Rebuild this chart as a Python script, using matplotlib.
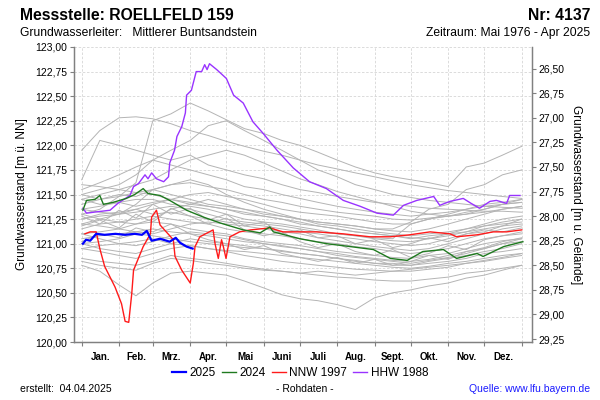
import matplotlib
matplotlib.use("Agg")
import matplotlib.pyplot as plt
from matplotlib.ticker import FixedLocator, FuncFormatter, NullFormatter

plt.rcParams["font.family"] = ["Liberation Sans", "DejaVu Sans"]

MONTHS = ["Jan.", "Feb.", "Mrz.", "Apr.", "Mai", "Juni",
          "Juli", "Aug.", "Sept.", "Okt.", "Nov.", "Dez."]
MONTH_STARTS = [0, 31, 59, 90, 120, 151, 181, 212, 243, 273, 304, 334, 365]

# other years (m ü. NN), sampled twice a month
GRAY_DAYS = [0, 15, 31, 45, 59, 74, 90, 105, 120, 135, 151, 166, 181,
             196, 212, 227, 243, 258, 273, 288, 304, 319, 334, 349, 365]
GRAY_YEARS = [
    [121.95, 122.15, 122.28, 122.29, 122.27, 122.22, 122.15, 122.10, 122.04, 121.99, 121.94, 121.90, 121.85,
     121.80, 121.76, 121.72, 121.68, 121.64, 121.60, 121.57, 121.54, 121.52, 121.50, 121.48, 121.46],
    [121.30, 121.35, 121.48, 121.62, 122.25, 122.32, 122.43, 122.35, 122.26, 122.17, 122.12, 122.05, 122.00,
     121.93, 121.85, 121.78, 121.72, 121.68, 121.65, 121.62, 121.58, 121.78, 121.82, 121.90, 121.99],
    [121.65, 122.05, 122.00, 121.95, 121.90, 121.85, 121.90, 121.80, 121.75, 121.70, 121.66, 121.60, 121.55,
     121.52, 121.48, 121.45, 121.42, 121.40, 121.38, 121.36, 121.35, 121.34, 121.33, 121.33, 121.32],
    [121.50, 121.55, 121.60, 121.70, 121.85, 121.95, 122.05, 122.20, 122.25, 122.15, 122.05, 121.95, 121.85,
     121.75, 121.68, 121.60, 121.55, 121.50, 121.47, 121.44, 121.42, 121.40, 121.38, 121.37, 121.36],
    [121.45, 121.50, 121.55, 121.60, 121.65, 121.75, 121.85, 121.90, 121.95, 121.90, 121.82, 121.74, 121.66,
     121.60, 121.53, 121.48, 121.43, 121.38, 121.33, 121.30, 121.28, 121.30, 121.35, 121.40, 121.45],
    [121.20, 121.25, 121.30, 121.40, 121.55, 121.60, 121.65, 121.60, 121.50, 121.42, 121.35, 121.30, 121.25,
     121.22, 121.20, 121.18, 121.15, 121.15, 121.22, 121.35, 121.40, 121.55, 121.60, 121.70, 121.75],
    [121.40, 121.45, 121.50, 121.48, 121.55, 121.50, 121.45, 121.40, 121.38, 121.35, 121.30, 121.28, 121.25,
     121.22, 121.20, 121.18, 121.15, 121.13, 121.12, 121.15, 121.20, 121.25, 121.30, 121.35, 121.38],
    [121.35, 121.38, 121.42, 121.45, 121.45, 121.40, 121.38, 121.35, 121.30, 121.25, 121.22, 121.20, 121.17,
     121.14, 121.10, 121.08, 121.05, 121.03, 121.02, 121.05, 121.10, 121.15, 121.20, 121.25, 121.28],
    [121.25, 121.30, 121.32, 121.35, 121.30, 121.32, 121.28, 121.25, 121.22, 121.20, 121.18, 121.15, 121.12,
     121.10, 121.07, 121.05, 121.02, 121.00, 120.98, 121.00, 121.05, 121.10, 121.12, 121.18, 121.20],
    [121.15, 121.20, 121.22, 121.25, 121.28, 121.25, 121.22, 121.20, 121.15, 121.12, 121.10, 121.08, 121.05,
     121.02, 121.00, 120.97, 120.95, 120.92, 120.90, 120.92, 120.95, 121.00, 121.05, 121.08, 121.12],
    [121.10, 121.12, 121.15, 121.20, 121.22, 121.20, 121.15, 121.12, 121.10, 121.05, 121.02, 121.00, 120.98,
     120.95, 120.92, 120.90, 120.88, 120.86, 120.85, 120.88, 120.90, 120.95, 121.00, 121.03, 121.05],
    [121.05, 121.08, 121.10, 121.12, 121.15, 121.12, 121.10, 121.08, 121.05, 121.02, 121.00, 120.97, 120.95,
     120.92, 120.90, 120.87, 120.85, 120.83, 120.82, 120.84, 120.88, 120.92, 120.95, 121.00, 121.02],
    [121.00, 121.02, 121.05, 121.10, 121.08, 121.05, 121.02, 121.00, 120.98, 120.96, 120.95, 120.93, 120.90,
     120.88, 120.85, 120.83, 120.80, 120.80, 120.78, 120.80, 120.82, 120.85, 120.90, 120.92, 120.95],
    [120.95, 120.98, 121.00, 121.02, 121.05, 121.00, 120.98, 120.95, 120.93, 120.92, 120.90, 120.88, 120.86,
     120.84, 120.82, 120.80, 120.78, 120.76, 120.75, 120.77, 120.80, 120.82, 120.85, 120.88, 120.90],
    [120.82, 120.78, 120.75, 120.73, 120.80, 120.85, 120.83, 120.80, 120.78, 120.75, 120.73, 120.72, 120.70,
     120.68, 120.66, 120.65, 120.63, 120.62, 120.62, 120.64, 120.66, 120.70, 120.72, 120.75, 120.78],
    [120.78, 120.72, 120.58, 120.47, 120.60, 120.70, 120.72, 120.70, 120.68, 120.62, 120.55, 120.48, 120.44,
     120.42, 120.38, 120.33, 120.45, 120.50, 120.53, 120.57, 120.60, 120.65, 120.68, 120.73, 120.78],
    [120.85, 120.82, 120.80, 120.78, 120.82, 120.88, 120.85, 120.83, 120.80, 120.77, 120.74, 120.72, 120.70,
     120.72, 120.70, 120.68, 120.70, 120.72, 120.74, 120.76, 120.78, 120.80, 120.82, 120.85, 120.88],
    [121.50, 121.45, 121.48, 121.52, 121.50, 121.45, 121.40, 121.45, 121.40, 121.35, 121.32, 121.28, 121.25,
     121.20, 121.18, 121.15, 121.12, 121.10, 121.08, 121.10, 121.12, 121.15, 121.18, 121.20, 121.22],
    [121.30, 121.25, 121.22, 121.20, 121.25, 121.35, 121.40, 121.38, 121.35, 121.30, 121.28, 121.25, 121.20,
     121.18, 121.15, 121.12, 121.10, 121.08, 121.05, 121.08, 121.10, 121.12, 121.15, 121.18, 121.25],
    [121.20, 121.18, 121.15, 121.12, 121.10, 121.15, 121.20, 121.22, 121.20, 121.18, 121.15, 121.12, 121.10,
     121.06, 121.03, 121.00, 120.97, 120.95, 120.93, 120.95, 121.00, 121.05, 121.10, 121.15, 121.18],
    [121.45, 121.40, 121.42, 121.38, 121.42, 121.45, 121.50, 121.52, 121.48, 121.45, 121.40, 121.35, 121.32,
     121.30, 121.28, 121.25, 121.22, 121.20, 121.20, 121.25, 121.30, 121.35, 121.40, 121.42, 121.45],
    [121.60, 121.58, 121.55, 121.52, 121.55, 121.60, 121.62, 121.58, 121.55, 121.50, 121.45, 121.42, 121.38,
     121.35, 121.32, 121.30, 121.28, 121.25, 121.24, 121.26, 121.28, 121.32, 121.35, 121.40, 121.42],
    [121.10, 121.05, 121.00, 120.98, 121.02, 121.08, 121.12, 121.10, 121.08, 121.04, 121.00, 120.98, 120.95,
     120.92, 120.88, 120.86, 120.84, 120.82, 120.80, 120.83, 120.86, 120.90, 120.95, 121.00, 121.05],
    [121.00, 120.95, 120.92, 120.90, 120.95, 121.00, 121.05, 121.02, 121.00, 120.98, 120.95, 120.92, 120.90,
     120.88, 120.85, 120.82, 120.80, 120.78, 120.78, 120.82, 120.85, 120.88, 120.92, 120.95, 121.00],
    [121.25, 121.28, 121.30, 121.32, 121.35, 121.38, 121.35, 121.30, 121.25, 121.22, 121.20, 121.18, 121.15,
     121.12, 121.10, 121.08, 121.06, 121.05, 121.20, 121.25, 121.28, 121.30, 121.32, 121.35, 121.38],
    [121.35, 121.32, 121.30, 121.35, 121.40, 121.45, 121.42, 121.38, 121.35, 121.32, 121.28, 121.25, 121.22,
     121.18, 121.15, 121.12, 121.10, 121.08, 121.06, 121.05, 121.08, 121.12, 121.18, 121.22, 121.25],
    [121.55, 121.62, 121.70, 121.78, 121.85, 121.80, 121.75, 121.70, 121.65, 121.58, 121.55, 121.50, 121.46,
     121.42, 121.38, 121.35, 121.32, 121.30, 121.28, 121.30, 121.32, 121.35, 121.38, 121.40, 121.42],
    [120.95, 120.92, 120.88, 120.85, 120.90, 120.95, 120.98, 120.95, 120.92, 120.88, 120.85, 120.82, 120.80,
     120.78, 120.76, 120.74, 120.73, 120.72, 120.72, 120.74, 120.76, 120.80, 120.83, 120.86, 120.90],
    [121.18, 121.24, 121.16, 121.30, 121.22, 121.36, 121.28, 121.20, 121.26, 121.14, 121.08, 121.12, 121.02,
     120.96, 121.00, 120.92, 120.88, 120.94, 120.86, 120.90, 120.98, 120.94, 121.04, 121.08, 121.10],
    [121.28, 121.20, 121.34, 121.26, 121.40, 121.30, 121.36, 121.24, 121.30, 121.18, 121.22, 121.10, 121.14,
     121.06, 121.08, 121.00, 121.04, 120.96, 121.00, 121.06, 121.02, 121.10, 121.14, 121.12, 121.16],
    [121.02, 121.10, 121.06, 121.16, 121.12, 121.20, 121.10, 121.04, 121.00, 120.94, 120.98, 120.90, 120.86,
     120.82, 120.86, 120.80, 120.84, 120.78, 120.82, 120.88, 120.84, 120.92, 120.96, 121.02, 121.06],
]

DAYS_2025 = [1, 3.6, 7, 12, 19, 28, 36, 44, 50, 54, 58, 65, 73, 78, 81.5, 87, 92]
LEVEL_2025 = [121.00, 121.04, 121.03, 121.10, 121.09, 121.10, 121.09, 121.10, 121.09, 121.13,
              121.03, 121.05, 121.02, 121.06, 121.01, 120.97, 120.95]

DAYS_2024 = [1, 4, 11, 15, 18, 26, 37, 44, 51, 55, 65, 73, 87, 101, 115, 134, 148, 156, 159,
             181, 203, 223, 242, 256, 270, 283, 300, 311, 328, 333, 350, 366]
LEVEL_2024 = [121.34, 121.44, 121.45, 121.49, 121.40, 121.42, 121.46, 121.50, 121.56, 121.51,
              121.49, 121.44, 121.34, 121.27, 121.21, 121.14, 121.11, 121.17, 121.12,
              121.05, 121.00, 120.97, 120.94, 120.85, 120.83, 120.92, 120.94, 120.85, 120.90,
              120.87, 120.97, 121.02]

DAYS_NNW = [2.7, 7, 12, 15, 19, 23.5, 27.6, 33, 36, 39, 41.5, 43, 51, 57, 58, 62, 65, 76, 77.4,
            83, 90, 92.6, 94, 98, 109, 110.6, 113.3, 116, 117.5, 119.7, 123, 131, 140, 156, 167,
            195, 217, 239, 256, 272, 289, 305.5, 311, 328, 341.5, 352.5, 365]
LEVEL_NNW = [121.10, 121.12, 121.12, 120.95, 120.77, 120.66, 120.56, 120.39, 120.21, 120.20,
             120.49, 120.73, 120.97, 121.10, 121.27, 121.34, 121.19, 121.04, 120.87,
             120.73, 120.60, 120.80, 120.97, 121.07, 121.14, 121.00, 120.85, 121.04, 120.97,
             120.85, 121.07, 121.12, 121.14, 121.16, 121.12,
             121.12, 121.10, 121.07, 121.07, 121.09, 121.12, 121.10, 121.07, 121.09, 121.12,
             121.12, 121.14]

DAYS_HHW = [1, 4, 10, 23.5, 30, 40, 43, 47, 52.5, 55, 58, 62, 68, 72, 73, 77, 79, 83, 86, 87,
            91, 95, 99.5, 102, 104, 106, 112, 120, 126, 134, 142, 150.6, 162, 175.5, 189, 203,
            217, 231, 245, 258.5, 267, 278, 292, 297, 305.5, 316.5, 323, 330, 338.7, 344,
            352.5, 355, 363.6]
LEVEL_HHW = [121.36, 121.31, 121.32, 121.34, 121.41, 121.49, 121.58, 121.61, 121.70, 121.66,
             121.72, 121.66, 121.63, 121.68, 121.82, 121.95, 122.09, 122.19, 122.33, 122.51,
             122.56, 122.75, 122.75, 122.82, 122.77, 122.83, 122.77, 122.68, 122.51, 122.43,
             122.24, 122.12, 121.95, 121.77, 121.63, 121.56, 121.44, 121.38, 121.31, 121.29,
             121.39, 121.44, 121.48, 121.39, 121.43, 121.46, 121.41, 121.36, 121.43, 121.44,
             121.41, 121.49, 121.49]

OFFSET = 149.28  # m u. Gelände = OFFSET - m ü. NN

fig = plt.figure(figsize=(6, 4), dpi=100)
ax = fig.add_axes([74 / 600, 58 / 400, 457.7 / 600, 295 / 400])

for vals in GRAY_YEARS:
    ax.plot(GRAY_DAYS, vals, color="#b4b4b4", lw=0.7, zorder=2)

ax.plot(DAYS_HHW, LEVEL_HHW, color="#9933ff", lw=1.0, zorder=3, label="HHW 1988")
ax.plot(DAYS_NNW, LEVEL_NNW, color="#ff1a1a", lw=1.0, zorder=4, label="NNW 1997")
ax.plot(DAYS_2024, LEVEL_2024, color="#1f7a1f", lw=1.0, zorder=5, label="2024")
ax.plot(DAYS_2025, LEVEL_2025, color="#0000ff", lw=1.6, zorder=6, label="2025")

ax.set_xlim(-6.4, 373.3)
ax.set_ylim(120, 123)

yticks = [120 + 0.25 * i for i in range(13)]
ax.yaxis.set_major_locator(FixedLocator(yticks))
ax.yaxis.set_major_formatter(FuncFormatter(lambda v, p: f"{v:.2f}".replace(".", ",")))
ax.xaxis.set_major_locator(FixedLocator(MONTH_STARTS))
ax.xaxis.set_major_formatter(NullFormatter())
mids = [(MONTH_STARTS[i] + MONTH_STARTS[i + 1]) / 2 for i in range(12)]
ax.xaxis.set_minor_locator(FixedLocator(mids))
ax.set_xticklabels(MONTHS, minor=True)

ax.tick_params(axis="y", length=3, width=0.8, color="#808080", labelsize=7.5, pad=2)
ax.tick_params(axis="x", which="major", length=3, width=0.8, color="#808080")
ax.tick_params(axis="x", which="minor", length=0, labelsize=7, pad=7)
for lab in ax.get_xticklabels(minor=True):
    lab.set_fontweight("bold")

ax.grid(True, which="major", color="#d6d6d6", ls=(0, (3, 2)), lw=0.6, zorder=0)
for side in ["left", "bottom", "right"]:
    ax.spines[side].set_color("#808080")
    ax.spines[side].set_linewidth(1.0)
ax.spines["top"].set_visible(False)

ax.set_ylabel("Grundwasserstand [m ü. NN]", fontsize=8.5, labelpad=5)

ax2 = ax.twinx()
ax2.set_ylim(OFFSET - 120, OFFSET - 123)
ax2.yaxis.set_major_locator(FixedLocator([26.5 + 0.25 * i for i in range(12)]))
ax2.yaxis.set_major_formatter(FuncFormatter(lambda v, p: f"{v:.2f}".replace(".", ",")))
ax2.tick_params(axis="y", length=3, width=0.8, color="#808080", labelsize=7.5, pad=2)
for side in ["left", "bottom", "right"]:
    ax2.spines[side].set_color("#808080")
ax2.spines["top"].set_visible(False)
ax2.set_ylabel("Grundwasserstand [m u. Gelände]", fontsize=8.5, rotation=-90, labelpad=12)

handles, labels = ax.get_legend_handles_labels()
order = [3, 2, 1, 0]
fig.legend([handles[i] for i in order], [labels[i] for i in order],
           loc="center", bbox_to_anchor=(0.5, 1 - 373 / 400), ncol=4, frameon=False,
           fontsize=8.5, handlelength=1.2, columnspacing=0.5, handletextpad=0.3)

fig.text(20 / 600, 1 - 15 / 400, "Messstelle: ROELLFELD 159", fontsize=11.3, fontweight="bold",
         va="center", ha="left")
fig.text(590 / 600, 1 - 15 / 400, "Nr: 4137", fontsize=11.3, fontweight="bold", va="center", ha="right")
fig.text(20 / 600, 1 - 33 / 400, "Grundwasserleiter:   Mittlerer Buntsandstein", fontsize=8.7,
         va="center", ha="left")
fig.text(590 / 600, 1 - 33 / 400, "Zeitraum: Mai 1976 - Apr 2025", fontsize=8.7, va="center", ha="right")

fig.text(20 / 600, 1 - 389 / 400, "erstellt:  04.04.2025", fontsize=7.5, va="center", ha="left")
fig.text(305 / 600, 1 - 389 / 400, "- Rohdaten -", fontsize=7.5, va="center", ha="center")
fig.text(590 / 600, 1 - 389 / 400, "Quelle: www.lfu.bayern.de", fontsize=7.5, va="center", ha="right",
         color="#1a1aff")

fig.savefig("out.png", dpi=100)
